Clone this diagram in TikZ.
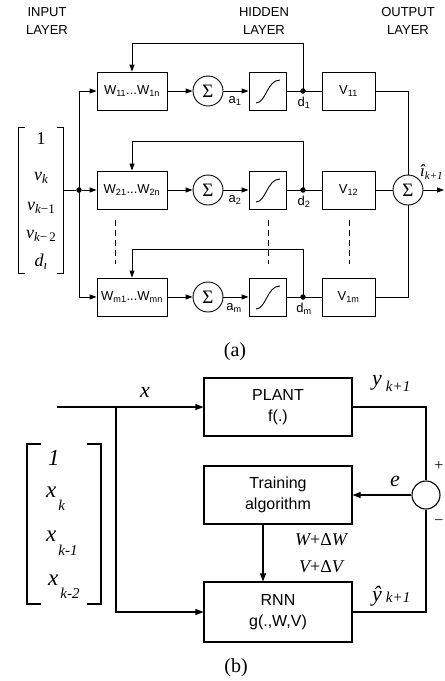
\documentclass[tikz,border=0pt]{standalone}
\usepackage{fontspec}
\setmainfont{Liberation Serif}
\setsansfont{Liberation Sans}
\usetikzlibrary{arrows.meta}
\newcommand\fsz[1]{\fontsize{#1}{#1}\selectfont}
\newcommand\lowsub[3]{\raisebox{#1}{\fsz{#2}\itshape #3}}
\begin{document}
\begin{tikzpicture}[x=1pt,y=-1pt,
  ln/.style={line width=0.9pt},
  arr/.style={ln,-{Triangle[length=7pt,width=5pt]}},
  blk/.style={draw,ln,rectangle,inner sep=0pt,minimum height=38pt,font=\sffamily\fsz{13}},
  sumc/.style={draw,ln,circle,inner sep=0pt,minimum size=30pt,font=\fsz{19}},
  dotc/.style={circle,fill,inner sep=0pt,minimum size=5.5pt},
  lbl/.style={font=\sffamily\fsz{13},inner sep=0pt},
  layer/.style={font=\sffamily\fsz{13},align=center,inner sep=0pt,text depth=0pt},
  vec/.style={font=\fsz{18},inner sep=0pt,anchor=base},
  dsh/.style={ln,dash pattern=on 6pt off 4pt},
  bln/.style={line width=1.1pt},
  barr/.style={bln,-{Triangle[length=8pt,width=6pt]}},
  bblk/.style={draw,bln,rectangle,inner sep=0pt,minimum width=148pt,minimum height=58pt,align=center,font=\sffamily\fontsize{16}{20.5}\selectfont},
  big/.style={font=\fsz{22}\itshape,inner sep=0pt},
  bvec/.style={font=\fsz{23},inner sep=0pt,anchor=base west},
  captxt/.style={font=\fsz{20},inner sep=0pt}
]
\useasboundingbox (0,0) rectangle (445,681);

% ---------------- (a) ----------------
\node[layer] (lin) at (47,21) {INPUT\\[4.5pt]LAYER};
\node[layer] (lhid) at (264,21) {HIDDEN\\[4.5pt]LAYER};
\node[layer] (lout) at (408,21) {OUTPUT\\[4.5pt]LAYER};

% row 1
\node[blk,minimum width=70pt] (w1) at (132,91) {W\textsubscript{11}...W\textsubscript{1n}};
\node[sumc] (s1) at (208,91) {Σ};
\node[blk,minimum width=37pt] (g1) at (267.5,91) {};
\node[dotc] (d1) at (303,91) {};
\node[blk,minimum width=53pt] (v1) at (348.5,91) {V\textsubscript{11}};
\node[lbl] (la1) at (235,101) {a\textsubscript{1}};
\node[lbl] (ld1) at (304,103) {d\textsubscript{1}};
\coordinate (f1) at (303,43);
\coordinate (in1) at (79,91);

% row 2
\node[blk,minimum width=70pt] (w2) at (132,190) {W\textsubscript{21}...W\textsubscript{2n}};
\node[sumc] (s2) at (208,190) {Σ};
\node[blk,minimum width=37pt] (g2) at (267.5,190) {};
\node[dotc] (d2) at (303,190) {};
\node[blk,minimum width=53pt] (v2) at (348.5,190) {V\textsubscript{12}};
\node[lbl] (la2) at (235,200) {a\textsubscript{2}};
\node[lbl] (ld2) at (304,202) {d\textsubscript{2}};
\coordinate (f2) at (303,141);
\node[dotc] (in2) at (79,190) {};
\coordinate (br) at (63,190);

% row m
\node[blk,minimum width=70pt] (wm) at (132,297) {W\textsubscript{m1}...W\textsubscript{mn}};
\node[sumc] (sm) at (208,297) {Σ};
\node[blk,minimum width=37pt] (gm) at (267.5,297) {};
\node[dotc] (dm) at (303,297) {};
\node[blk,minimum width=53pt] (vm) at (348.5,297) {V\textsubscript{1m}};
\node[lbl] (lam) at (234,308) {a\textsubscript{m}};
\node[lbl] (ldm) at (304,309) {d\textsubscript{m}};
\coordinate (fm) at (303,249);
\coordinate (inm) at (79,297);

% output sum
\node[sumc] (so) at (408,190) {Σ};
\coordinate (oend) at (444,190);
\node[font=\fsz{17}\itshape,inner sep=0pt,anchor=base west] (ihat) at (420,176) {î\lowsub{-3pt}{11}{k+1}};

% sigmoids
\foreach \g in {g1,g2,gm}{
  \draw[ln] ([shift={(-11.5,12)}]\g.center) .. controls +(10,0) and +(-13,0) .. ([shift={(12.5,-11)}]\g.center);
}

% connectors (a)
\foreach \r in {1,2,m}{
  \draw[arr] (w\r) -- (s\r);
  \draw[arr] (s\r) -- (g\r);
  \draw[ln] (g\r) -- (v\r);
  \draw[arr] (d\r.center) -- (f\r) -| (w\r.north);
}
\draw[ln] (in1) -- (inm);
\draw[arr] (in1) -- (w1);
\draw[arr] (in2) -- (w2);
\draw[arr] (inm) -- (wm);
\draw[ln] (br) -- (in2);
\draw[ln] (v1.east) -| (so.north);
\draw[ln] (v2) -- (so);
\draw[ln] (vm.east) -| (so.south);
\draw[arr] (so) -- (oend);

% dashed
\draw[dsh] (115,220) -- (115,264);
\draw[dsh] (268,220) -- (268,264);
\draw[dsh] (349,220) -- (349,264);

% input vector (a)
\draw[line width=0.8pt] (25,127) -- (18,127) -- (18,273) -- (25,273);
\draw[line width=0.8pt] (57,127) -- (63,127) -- (63,273) -- (57,273);
\node[vec] (e1) at (41,144) {1};
\node[vec] (e2) at (41,180) {{\itshape v}\lowsub{-3pt}{13}{k}};
\node[vec] (e3) at (41,210) {{\itshape v}\lowsub{-3pt}{13}{k}{\fsz{13}\raisebox{-3pt}{−1}}};
\node[vec] (e4) at (41,238) {{\itshape v}\lowsub{-3pt}{13}{k}{\fsz{13}\raisebox{-3pt}{−\,2}}};
\node[vec] (e5) at (41,266) {{\itshape d}\lowsub{-3pt}{13}{ı}};

\node[captxt] (capa) at (235,352) {(a)};

% ---------------- (b) ----------------
\node[bblk] (plant) at (278,407) {PLANT\\f(.)};
\node[bblk] (train) at (278,495) {Training\\algorithm};
\node[bblk,minimum height=60pt] (rnn) at (278,612) {RNN\\g(.,W,V)};
\node[draw,bln,circle,inner sep=0pt,minimum size=28pt] (err) at (426,495) {};
\coordinate (xin) at (57,407);
\coordinate (xbr) at (116,407);

\draw[barr] (xin) -- (plant);
\draw[barr] (xbr) |- (rnn.west);
\draw[bln] (plant.east) -| (err.north);
\draw[bln] (rnn.east) -| (err.south);
\draw[barr] (err) -- (train);
\draw[barr] ([xshift=-15pt]train.south) -- ([xshift=-15pt]rnn.north);

\node[big] (lx) at (145,392) {x};
\node[inner sep=0pt,anchor=base west] (ly) at (372,385) {{\fsz{22}\itshape y}\hspace{4pt}\lowsub{-6pt}{15}{k+1}};
\node[big] (le) at (395,481) {e};
\node[font=\fsz{16},inner sep=0pt] (lp) at (439,466) {+};
\node[font=\fsz{16},inner sep=0pt] (lm) at (439,523) {−};
\node[font=\fsz{18},inner sep=0pt] (ldw) at (321,540) {{\itshape W}+Δ{\itshape W}};
\node[font=\fsz{18},inner sep=0pt] (ldv) at (321,567) {{\itshape V}+Δ{\itshape V}};
\node[inner sep=0pt,anchor=base west] (lyh) at (372,601) {{\fsz{22}\itshape ŷ}\hspace{4pt}\lowsub{-1pt}{15}{k+1}};

% input vector (b)
\draw[bln] (41,444) -- (27,444) -- (27,604) -- (41,604);
\draw[bln] (87,444) -- (101,444) -- (101,604) -- (87,604);
\node[bvec] (b1) at (48,465) {\itshape 1};
\node[bvec] (b2) at (46,497) {{\itshape x}\hspace{2pt}\lowsub{-13pt}{15}{k}};
\node[bvec] (b3) at (46,541) {{\itshape x}\hspace{2pt}\lowsub{-14pt}{15}{k-1}};
\node[bvec] (b4) at (48,585) {{\itshape x}\hspace{2pt}\lowsub{-13pt}{15}{k-2}};

\node[captxt] (capb) at (236,668) {(b)};
\end{tikzpicture}
\end{document}
